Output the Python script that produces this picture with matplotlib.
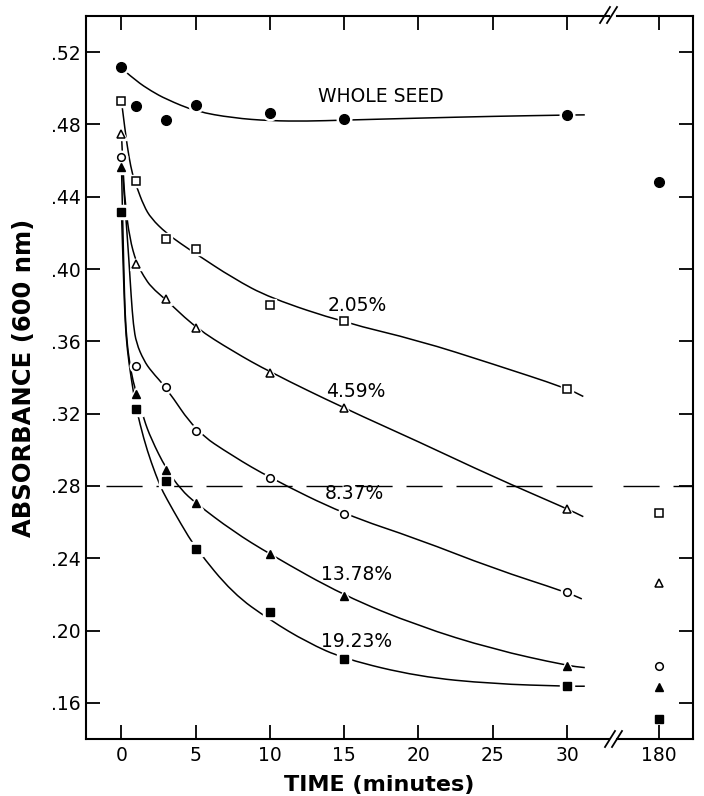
import matplotlib
matplotlib.use("Agg")
import matplotlib.pyplot as plt
from matplotlib.lines import Line2D
from matplotlib.path import Path
from matplotlib.patches import PathPatch

# measured points (minutes, absorbance at 600 nm)
times = [0, 1, 3, 5, 10, 15, 30]
t_long = 180
whole_seed = [0.512, 0.4904, 0.4825, 0.4906, 0.4862, 0.4829, 0.4852]
pct_205 = [0.4928, 0.4488, 0.4168, 0.4110, 0.3799, 0.3712, 0.3335]
pct_459 = [0.4746, 0.4029, 0.3832, 0.3675, 0.3425, 0.3230, 0.2674]
pct_837 = [0.4618, 0.3462, 0.3350, 0.3102, 0.2845, 0.2643, 0.2211]
pct_1378 = [0.4565, 0.3310, 0.2890, 0.2705, 0.2422, 0.2192, 0.1806]
pct_1923 = [0.4314, 0.3226, 0.2825, 0.2450, 0.2104, 0.1843, 0.1692]
# values at 180 min
long_vals = [0.4483, 0.2652, 0.2264, 0.1806, 0.1690, 0.1512]

# hand-drawn fitted curves (used as curve control points)
whole_fit_x = [0.2, 1, 2, 3, 5, 7.5, 10, 12.5, 15, 20, 25, 30, 31.2]
whole_fit_y = [0.5097, 0.5040, 0.4985, 0.4940, 0.4872, 0.4836, 0.4820, 0.4818, 0.4824,
               0.4835, 0.4845, 0.4852, 0.4853]
f205_x = [0, 0.25, 0.5, 0.75, 1, 1.5, 2, 3, 4, 5, 7.5, 10, 15, 20, 25, 30, 31.1]
f205_y = [0.4928, 0.4760, 0.4620, 0.4520, 0.4460, 0.4350, 0.4280, 0.4200, 0.4140, 0.4085,
          0.3950, 0.3840, 0.3704, 0.3605, 0.3475, 0.3340, 0.3295]
f459_x = [0, 0.1, 0.25, 0.55, 1, 1.5, 2, 3, 5, 7.5, 10, 15, 20, 25, 30, 31.1]
f459_y = [0.4746, 0.4550, 0.4360, 0.4170, 0.4035, 0.3960, 0.3900, 0.3830, 0.3675, 0.3545,
          0.3430, 0.3230, 0.3045, 0.2852, 0.2674, 0.2630]
f837_x = [0, 0.15, 0.3, 0.5, 0.65, 0.8, 1, 1.5, 2, 3, 5, 7.5, 10, 15, 20, 25, 30, 31]
f837_y = [0.4618, 0.4450, 0.4280, 0.4050, 0.3850, 0.3690, 0.3590, 0.3495, 0.3435, 0.3345,
          0.3102, 0.2965, 0.2845, 0.2643, 0.2505, 0.2345, 0.2211, 0.2175]
f1378_x = [0, 0.1, 0.2, 0.3, 0.5, 0.8, 1, 1.5, 2, 3, 4, 5, 7.5, 10, 15, 20, 25, 30, 31.2]
f1378_y = [0.4565, 0.4200, 0.3850, 0.3660, 0.3500, 0.3370, 0.3320, 0.3170, 0.3060, 0.2895,
           0.2780, 0.2705, 0.2550, 0.2422, 0.2192, 0.2025, 0.1897, 0.1806, 0.1795]
f1923_x = [0, 0.1, 0.2, 0.3, 0.5, 0.8, 1, 1.5, 2, 2.6, 3, 4, 5, 7.5, 10, 12.5, 15, 20, 25,
           30, 31.2]
f1923_y = [0.4314, 0.4050, 0.3800, 0.3630, 0.3480, 0.3320, 0.3226, 0.3060, 0.2930, 0.2800,
           0.2735, 0.2590, 0.2455, 0.2205, 0.2058, 0.1935, 0.1843, 0.1745, 0.1705, 0.1692,
           0.1692]

labels = ["WHOLE SEED", "2.05%", "4.59%", "8.37%", "13.78%", "19.23%"]
label_x = [17.5, 15.9, 15.8, 15.7, 15.8, 15.8]
label_y = [0.4955, 0.3800, 0.3320, 0.2760, 0.2312, 0.1942]

x_ticks = [0, 5, 10, 15, 20, 25, 30]
y_ticks = [0.16, 0.20, 0.24, 0.28, 0.32, 0.36, 0.40, 0.44, 0.48, 0.52]
y_ticklabels = [".16", ".20", ".24", ".28", ".32", ".36", ".40", ".44", ".48", ".52"]
ref_level = 0.28

series = [
    (whole_seed, whole_fit_x, whole_fit_y, dict(marker="o", ms=7.0, mfc="black")),
    (pct_205, f205_x, f205_y, dict(marker="s", ms=5.2, mfc="white", mew=1.1)),
    (pct_459, f459_x, f459_y, dict(marker="^", ms=5.5, mfc="white", mew=1.1)),
    (pct_837, f837_x, f837_y, dict(marker="o", ms=5.5, mfc="white", mew=1.1)),
    (pct_1378, f1378_x, f1378_y, dict(marker="^", ms=6.2, mfc="black")),
    (pct_1923, f1923_x, f1923_y, dict(marker="s", ms=6.0, mfc="black")),
]


def smooth_path(xs, ys):
    # quadratic bezier through the midpoints, read points act as control points
    pts = list(zip(xs, ys))
    verts = [pts[0]]
    codes = [Path.MOVETO]
    for i in range(1, len(pts) - 1):
        mid = ((pts[i][0] + pts[i + 1][0]) / 2, (pts[i][1] + pts[i + 1][1]) / 2)
        verts += [pts[i], mid]
        codes += [Path.CURVE3, Path.CURVE3]
    verts.append(pts[-1])
    codes.append(Path.LINETO)
    return Path(verts, codes)


W, H = 704, 796
fig = plt.figure(figsize=(W / 100, H / 100), dpi=100)
bottom = (H - 739) / H
height = (739 - 16) / H
ax = fig.add_axes([86 / W, bottom, (609 - 86) / W, height])
ax2 = fig.add_axes([617 / W, bottom, (693 - 617) / W, height], sharey=ax)

ax.set_xlim(-2.39, 32.83)
ax2.set_xlim(177.17, 182.29)
ax.set_ylim(0.14, 0.54)

for vals, fx, fy, st in series:
    ax.add_patch(PathPatch(smooth_path(fx, fy), fill=False, edgecolor="black",
                           lw=1.1, zorder=2))
    ax.plot(times, vals, ls="none", marker=st["marker"], ms=st["ms"] + 3.5,
            mfc="white", mec="white", zorder=3, clip_on=False)
    ax.plot(times, vals, ls="none", color="black", mec="black", zorder=4,
            clip_on=False, **st)

for val, (_, _, _, st) in zip(long_vals, series):
    ax2.plot([t_long], [val], ls="none", color="black", mec="black", zorder=4,
             clip_on=False, **st)

ax.plot([-1.04, 32.4], [ref_level, ref_level], color="black", lw=1.0,
        dashes=(26, 10), zorder=1)
ax2.plot([177.6, 182.29], [ref_level, ref_level], color="black", lw=1.0,
         dashes=(26, 10), zorder=1)

for txt, lx, ly in zip(labels, label_x, label_y):
    ax.text(lx, ly, txt, ha="center", va="center", fontsize=13.5)

# axes styling
for a in (ax, ax2):
    for s in a.spines.values():
        s.set_linewidth(1.5)
    a.tick_params(direction="in", length=10, width=1.3, labelsize=13.5, pad=5)
ax.spines["right"].set_visible(False)
ax2.spines["left"].set_visible(False)

ax.set_xticks(x_ticks)
ax.set_xticklabels([str(t) for t in x_ticks])
ax.set_yticks(y_ticks)
ax.set_yticklabels(y_ticklabels)
ax.tick_params(top=True, right=False, axis="both")
ax.tick_params(axis="y", pad=4)

ax2.set_xticks([t_long])
ax2.set_xticklabels([str(t_long)])
ax2.tick_params(top=True, left=False, right=True, labelleft=False)

# axis break marks
for x0, y0 in [(600, 23), (607, 23), (605, 747), (612, 747)]:
    fig.add_artist(Line2D([x0 / W, (x0 + 10) / W], [1 - y0 / H, 1 - (y0 - 16) / H],
                          color="black", lw=1.3))

fig.text(24 / W, 1 - 378 / H, "ABSORBANCE (600 nm)", rotation=90, ha="center",
         va="center", fontsize=17.5, fontweight="bold")
fig.text(379 / W, 1 - 785 / H, "TIME (minutes)", ha="center", va="center",
         fontsize=16, fontweight="bold")

fig.savefig("out.png", dpi=100)
